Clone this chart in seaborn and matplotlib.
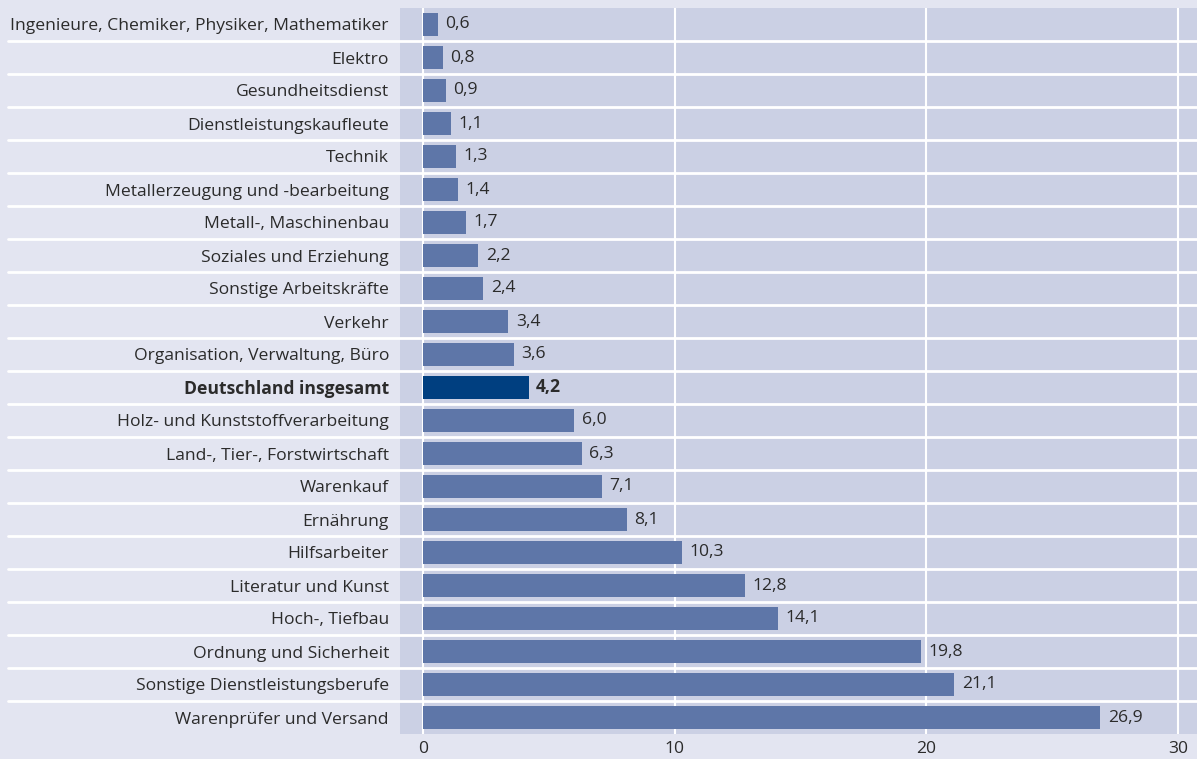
import matplotlib
matplotlib.use("Agg")
import matplotlib.pyplot as plt
import pandas as pd
import seaborn as sns

# Daten: Kategorien und Werte (Prozent)
berufe = [
    "Ingenieure, Chemiker, Physiker, Mathematiker",
    "Elektro",
    "Gesundheitsdienst",
    "Dienstleistungskaufleute",
    "Technik",
    "Metallerzeugung und -bearbeitung",
    "Metall-, Maschinenbau",
    "Soziales und Erziehung",
    "Sonstige Arbeitskräfte",
    "Verkehr",
    "Organisation, Verwaltung, Büro",
    "Deutschland insgesamt",
    "Holz- und Kunststoffverarbeitung",
    "Land-, Tier-, Forstwirtschaft",
    "Warenkauf",
    "Ernährung",
    "Hilfsarbeiter",
    "Literatur und Kunst",
    "Hoch-, Tiefbau",
    "Ordnung und Sicherheit",
    "Sonstige Dienstleistungsberufe",
    "Warenprüfer und Versand",
]
werte = [0.6, 0.8, 0.9, 1.1, 1.3, 1.4, 1.7, 2.2, 2.4, 3.4, 3.6, 4.2,
         6.0, 6.3, 7.1, 8.1, 10.3, 12.8, 14.1, 19.8, 21.1, 26.9]
x_ticks = [0, 10, 20, 30]
highlight = "Deutschland insgesamt"

df = pd.DataFrame({"beruf": berufe, "wert": werte})

sns.set_style("white")
plt.rcParams["font.family"] = ["Open Sans", "DejaVu Sans"]

bg_light = "#e3e5f1"
bg_plot = "#cbd0e4"
bar_col = "#5e76a8"
bar_hl = "#003f80"
text_col = "#2b2b2b"
fs = 12.6

fig = plt.figure(figsize=(11.97, 7.59), dpi=100, facecolor=bg_light)
ax = fig.add_axes([400 / 1197, 25 / 759, 797 / 1197, 726 / 759])
ax.set_facecolor(bg_plot)

palette = {b: (bar_hl if b == highlight else bar_col) for b in berufe}
sns.barplot(data=df, x="wert", y="beruf", hue="beruf", palette=palette,
            order=berufe, width=0.7, legend=False, ax=ax, saturation=1,
            linewidth=0, edgecolor="none")

ax.set_xlim(-0.91, 30.75)
ax.set_ylim(len(berufe) - 0.5, -0.5)
ax.set_xticks(x_ticks)
ax.set_xticklabels([str(t) for t in x_ticks])
ax.set_xlabel("")
ax.set_ylabel("")

# vertikale Gitterlinien
for t in x_ticks:
    ax.axvline(t, color="white", lw=1.5, zorder=0.5)

# horizontale Trennlinien zwischen den Zeilen (bis in den Beschriftungsbereich)
for i in range(len(berufe) - 1):
    ax.axhline(i + 0.5, xmin=-392 / 797, xmax=1, color="white", lw=2,
               clip_on=False, zorder=3)

for s in ax.spines.values():
    s.set_visible(False)

ax.tick_params(axis="y", length=0, pad=8, labelsize=fs, labelcolor=text_col)
ax.tick_params(axis="x", length=0, pad=5, labelsize=fs, labelcolor=text_col)

for lbl in ax.get_yticklabels():
    if lbl.get_text() == highlight:
        lbl.set_fontweight("bold")

# Wertebeschriftungen
for i, (b, v) in enumerate(zip(berufe, werte)):
    ax.text(v + 0.3, i, f"{v:.1f}".replace(".", ","), va="center", ha="left",
            fontsize=fs, color=text_col,
            fontweight="bold" if b == highlight else "normal")

fig.savefig("out.png", dpi=100, facecolor=bg_light)
